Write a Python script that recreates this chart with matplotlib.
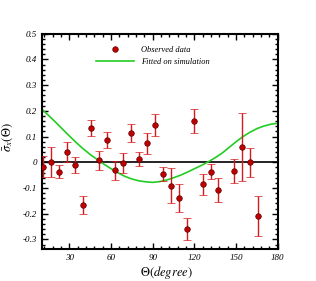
import numpy as np
import matplotlib
matplotlib.use("Agg")
import matplotlib.pyplot as plt
from matplotlib.lines import Line2D
from matplotlib.ticker import MultipleLocator, FuncFormatter

plt.rcParams['font.family'] = ['Liberation Serif', 'DejaVu Serif']
plt.rcParams['mathtext.fontset'] = 'stix'
plt.rcParams['axes.unicode_minus'] = False

# observed data (theta in degrees, asymmetry, error)
theta_obs = [11.2, 16.7, 22.7, 28.4, 34.0, 39.9, 45.5, 51.2, 57.0, 62.7,
             68.5, 74.0, 79.8, 85.5, 91.5, 97.0, 102.8, 108.8, 114.3, 119.8,
             125.8, 131.6, 137.3, 148.8, 154.3, 159.9, 165.6]
sigma_obs = [-0.017, 0.001, -0.037, 0.041, -0.011, -0.166, 0.133, 0.008, 0.086, -0.031,
             -0.004, 0.113, 0.012, 0.074, 0.145, -0.045, -0.092, -0.139, -0.260, 0.159,
             -0.086, -0.036, -0.108, -0.034, 0.060, 0.000, -0.210]
err_obs = [0.040, 0.060, 0.025, 0.039, 0.030, 0.036, 0.032, 0.037, 0.031, 0.037,
           0.039, 0.035, 0.028, 0.040, 0.042, 0.028, 0.068, 0.053, 0.042, 0.047,
           0.040, 0.028, 0.047, 0.048, 0.133, 0.056, 0.078]

# fitted curve
theta_fit = [10, 15, 20, 25, 30, 35, 40, 45, 50, 55, 60, 65, 70, 75, 80, 85, 90,
             95, 100, 105, 110, 115, 120, 125, 130, 135, 140, 145, 150, 155, 160,
             165, 170, 175, 180]
sigma_fit = [0.207, 0.182, 0.156, 0.129, 0.102, 0.076, 0.052, 0.030, 0.011, -0.008,
             -0.025, -0.041, -0.055, -0.065, -0.072, -0.076, -0.078, -0.075, -0.069,
             -0.060, -0.050, -0.038, -0.025, -0.012, 0.002, 0.018, 0.036, 0.058,
             0.080, 0.100, 0.117, 0.131, 0.141, 0.148, 0.152]

fig = plt.figure(figsize=(3.16, 2.81), dpi=100)
ax = fig.add_axes([0.132, 0.114, 0.747, 0.766])

ax.axhline(0, color='black', lw=1.2, zorder=1)
ax.plot(theta_fit, sigma_fit, color='#22cc22', lw=1.2, zorder=2)
ax.errorbar(theta_obs, sigma_obs, yerr=err_obs, fmt='o', color='#c00000',
            mec='#600000', mew=0.5, ms=4, ecolor='#d41a1a', elinewidth=1.0,
            capsize=3, capthick=1.0, zorder=3)

ax.set_xlim(10, 180)
ax.set_ylim(-0.337, 0.5)
ax.xaxis.set_major_locator(MultipleLocator(30))
ax.xaxis.set_minor_locator(MultipleLocator(6))
ax.yaxis.set_major_locator(MultipleLocator(0.1))
ax.yaxis.set_minor_locator(MultipleLocator(0.02))
ax.yaxis.set_major_formatter(FuncFormatter(lambda v, p: '0' if abs(v) < 1e-9 else f'{v:.1f}'))

ax.tick_params(which='both', direction='in', top=True, right=True,
               labelsize=6.5, width=1.0)
ax.tick_params(which='major', length=4)
ax.tick_params(which='minor', length=2)
for lab in ax.get_xticklabels() + ax.get_yticklabels():
    lab.set_fontstyle('italic')
for s in ax.spines.values():
    s.set_linewidth(1.5)

ax.set_xlabel(r'$\mathit{\Theta(degree)}$', fontsize=9)
ax.xaxis.set_label_coords(0.53, -0.07)
ax.set_ylabel(r'$\bar{\sigma}_{x}(\Theta)$', fontsize=9)
ax.yaxis.set_label_coords(-0.115, 0.52)

handles = [Line2D([], [], ls='none', marker='o', color='#c00000', mec='#600000',
                  mew=0.5, ms=4),
           Line2D([], [], color='#22cc22', lw=1.2)]
leg = ax.legend(handles, ['Observed data', 'Fitted on simulation'], loc='upper left',
                bbox_to_anchor=(0.2, 0.98), frameon=False, fontsize=6,
                handlelength=4.5, labelspacing=0.55, handletextpad=0.9)
for t in leg.get_texts():
    t.set_fontstyle('italic')

fig.savefig('out.png', dpi=100)
